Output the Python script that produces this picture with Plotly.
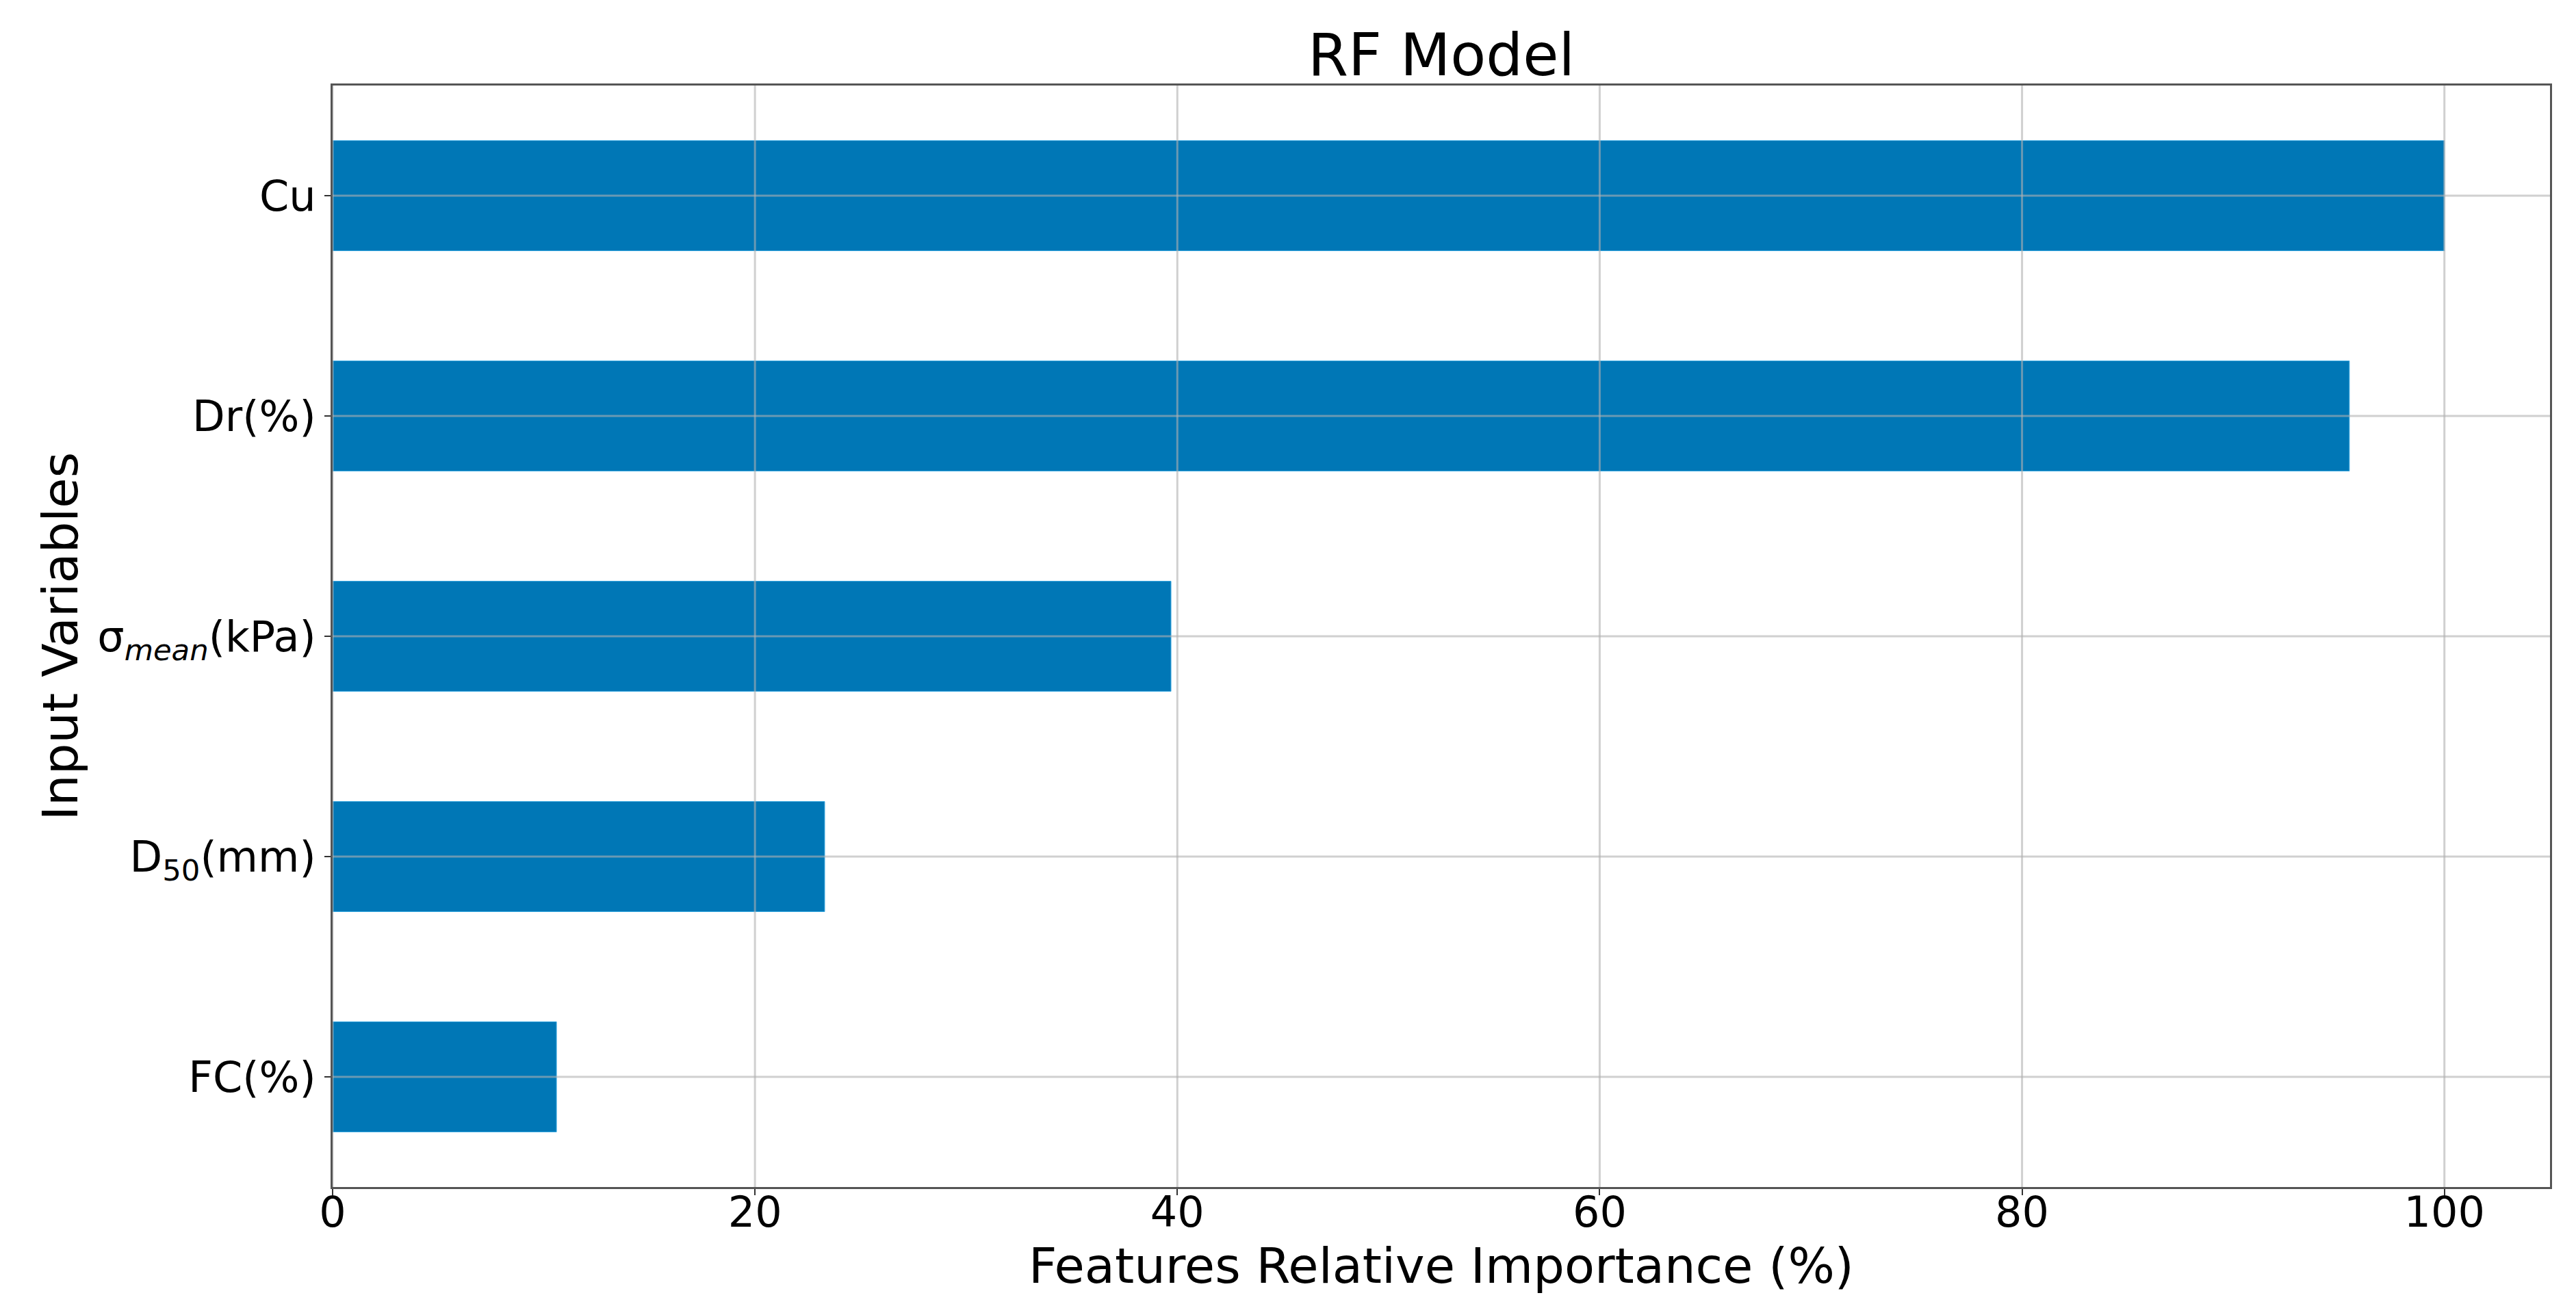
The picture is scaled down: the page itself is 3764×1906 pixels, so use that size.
import plotly.graph_objects as go

# Data
categories = ["Cu", "Dr(%)", "σ<sub><i>mean</i></sub>(kPa)", "D<sub>50</sub>(mm)", "FC(%)"]
importance = [100.0, 95.5, 39.7, 23.3, 10.6]
x_ticks = [0, 20, 40, 60, 80, 100]

title_text = "RF Model"
x_title = "Features Relative Importance (%)"
y_title = "Input Variables"

W, H = 3764, 1906
FONT = "DejaVu Sans"
BAR_COLOR = "#0077B6"
GRID_COLOR = "rgba(176,176,176,0.6)"
SPINE_COLOR = "#555555"

fig = go.Figure()
fig.add_trace(go.Bar(
    x=importance,
    y=categories,
    orientation="h",
    width=0.5,
    marker=dict(color=BAR_COLOR, line=dict(color="#3aa8e0", width=1)),
    showlegend=False,
))

# grid lines drawn above bars (as in the reference)
shapes = []
for t in x_ticks:
    shapes.append(dict(type="line", xref="x", yref="paper", x0=t, x1=t, y0=0, y1=1,
                       line=dict(color=GRID_COLOR, width=3), layer="above"))
for c in categories:
    shapes.append(dict(type="line", xref="paper", yref="y", x0=0, x1=1, y0=c, y1=c,
                       line=dict(color=GRID_COLOR, width=3), layer="above"))

fig.update_layout(
    width=W, height=H,
    margin=dict(l=478, r=46, t=117, b=179),
    paper_bgcolor="white",
    plot_bgcolor="white",
    font=dict(family=FONT, color="black", size=62),
    title=dict(text=title_text, x=0.5, xanchor="center", xref="paper",
               y=1 - 72 / H, yanchor="middle", yref="container",
               font=dict(size=85, family=FONT, color="black")),
    shapes=shapes,
    bargap=0.5,
)

fig.update_xaxes(
    range=[0, 105],
    tickvals=x_ticks,
    ticktext=[str(v) for v in x_ticks],
    showgrid=False,
    zeroline=False,
    showline=True, linecolor=SPINE_COLOR, linewidth=3, mirror=True,
    ticks="outside", ticklen=9, tickwidth=2, tickcolor="#333333",
    ticklabelstandoff=-28,
    tickfont=dict(size=62, family=FONT, color="black"),
    title=dict(text=x_title, font=dict(size=72, family=FONT, color="black"), standoff=4),
    automargin=False,
)
fig.update_yaxes(
    categoryorder="array",
    categoryarray=categories,
    range=[4.5, -0.5],
    showgrid=False,
    zeroline=False,
    showline=True, linecolor=SPINE_COLOR, linewidth=3, mirror=True,
    ticks="outside", ticklen=9, tickwidth=2, tickcolor="#333333",
    tickfont=dict(size=62, family=FONT, color="black"),
    title=dict(text=y_title, font=dict(size=72, family=FONT, color="black"), standoff=6),
    automargin=False,
)

fig.write_html("out.html")
